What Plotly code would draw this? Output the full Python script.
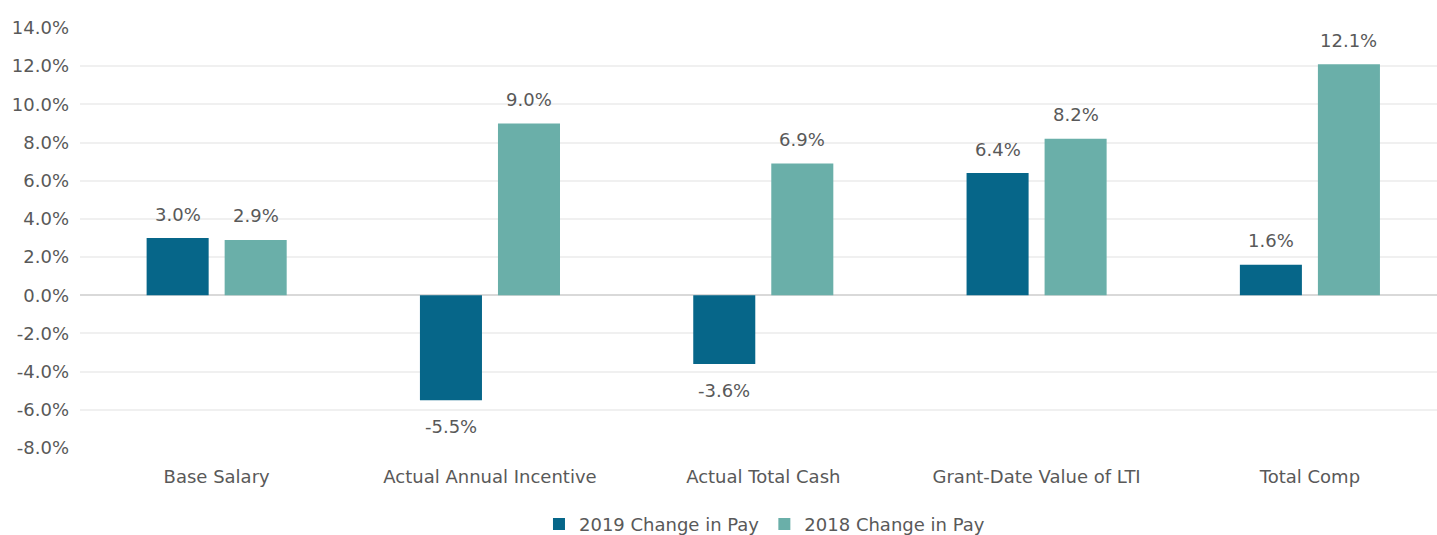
import plotly.graph_objects as go

categories = ["Base Salary", "Actual Annual Incentive", "Actual Total Cash",
              "Grant-Date Value of LTI", "Total Comp"]
pay_2019 = [3.0, -5.5, -3.6, 6.4, 1.6]
pay_2018 = [2.9, 9.0, 6.9, 8.2, 12.1]
series = [("2019 Change in Pay", pay_2019, "#066689"),
          ("2018 Change in Pay", pay_2018, "#6AAFA9")]
y_ticks = [-8, -6, -4, -2, 0, 2, 4, 6, 8, 10, 12, 14]

FONT = "DejaVu Sans"
TXT = "#595959"
FS = 18

fig = go.Figure()
for name, vals, col in series:
    fig.add_trace(go.Bar(
        name=name, x=categories, y=vals, marker_color=col,
        marker_line_width=0, hoverinfo="skip"))

annotations = []
for i, (name, vals, col) in enumerate(series):
    xs = -39 if i == 0 else 39
    for c, v in zip(categories, vals):
        annotations.append(dict(
            x=c, y=v, xref="x", yref="y", text=f"{v:.1f}%", showarrow=False,
            xshift=xs, yshift=24 if v >= 0 else -26,
            font=dict(family=FONT, size=FS, color=TXT)))

fig.update_layout(
    width=1437, height=535,
    margin=dict(l=80, r=0, t=28, b=87, autoexpand=False),
    paper_bgcolor="white", plot_bgcolor="white",
    barmode="group", bargap=0.429, bargroupgap=0.205,
    font=dict(family=FONT, size=FS, color=TXT),
    annotations=annotations,
    showlegend=True,
    legend=dict(orientation="h", xref="container", x=0.532, xanchor="center",
                yref="container", y=0.02, yanchor="middle",
                font=dict(family=FONT, size=FS, color=TXT),
                traceorder="normal", itemwidth=30),
    xaxis=dict(range=[-0.5, 4.465], showgrid=False, showline=False,
               ticks="", ticklabelstandoff=16,
               tickfont=dict(family=FONT, size=FS, color=TXT)),
    yaxis=dict(range=[-8, 14], tickvals=y_ticks,
               ticktext=[f"{t:.1f}%" for t in y_ticks],
               showgrid=True, gridcolor="#F0F0F0", gridwidth=1.5,
               zeroline=True, zerolinecolor="#D9D9D9", zerolinewidth=2,
               showline=False, ticks="", ticklabelstandoff=10,
               tickfont=dict(family=FONT, size=FS, color=TXT)),
)

fig.write_html("out.html", config={"displayModeBar": False},
               post_script="document.body.style.margin='0';"
                           "document.body.style.overflow='hidden';")
